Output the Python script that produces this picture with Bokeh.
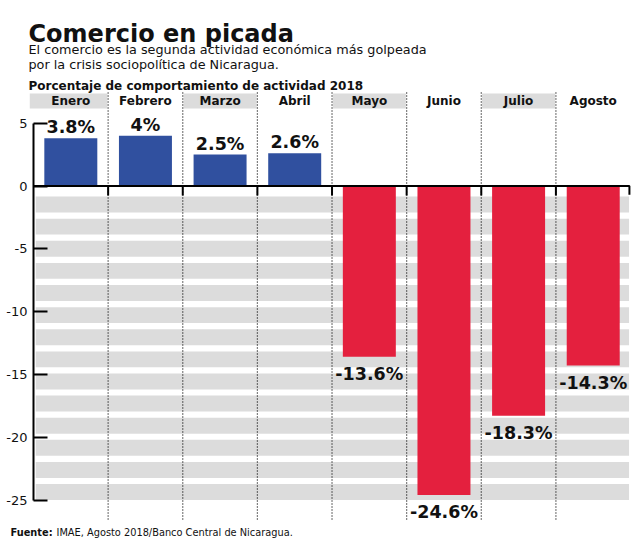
import numpy as np
from bokeh.plotting import figure
from bokeh.models import Range1d, FixedTicker, Label, ColumnDataSource
from bokeh.core.properties import value
from bokeh.embed import file_html
from bokeh.resources import INLINE

# ---------------- data ----------------
months = ["Enero", "Febrero", "Marzo", "Abril", "Mayo", "Junio", "Julio", "Agosto"]
values = [3.8, 4.0, 2.5, 2.6, -13.6, -24.6, -18.3, -14.3]
value_labels = ["3.8%", "4%", "2.5%", "2.6%", "-13.6%", "-24.6%", "-18.3%", "-14.3%"]
y_ticks = [5, 0, -5, -10, -15, -20, -25]
y_tick_labels = ["5", "0", "-5", "-10", "-15", "-20", "-25"]

title = "Comercio en picada"
subtitle_1 = "El comercio es la segunda actividad económica más golpeada"
subtitle_2 = "por la crisis sociopolítica de Nicaragua."
chart_label = "Porcentaje de comportamiento de actividad 2018"
source_bold = "Fuente:"
source_text = "IMAE, Agosto 2018/Banco Central de Nicaragua."

# ---------------- style ----------------
BLUE = "#30509f"
RED = "#e4203e"
GRAY = "#dcdcdc"
INK = "#111111"
FONT = "DejaVu Sans"

W, H = 640, 538
AXIS_PX = 33          # page x of the value axis
PX_PER_UNIT = 12.56
COL_PX = 74.63
ZERO_Y = 185.5        # page row of value 0

y_top = ZERO_Y / PX_PER_UNIT
y_bot = (ZERO_Y - H) / PX_PER_UNIT
x_lo = -AXIS_PX / COL_PX
x_hi = (W - AXIS_PX) / COL_PX
n = len(months)

p = figure(width=W, height=H,
           x_range=Range1d(x_lo, x_hi), y_range=Range1d(y_bot, y_top),
           x_axis_location=None, output_backend="svg", toolbar_location=None,
           min_border_left=0, min_border_right=0, min_border_top=0, min_border_bottom=0,
           outline_line_color=None, background_fill_color="white")
p.grid.visible = False

xc = np.arange(n) + 0.5
dividers = np.arange(1, n)

# background stripes (decoration)
n_str = 14
period = 1.761
band_h = 1.268
tops = -0.84 - period * np.arange(n_str)
p.quad(left=0.03, right=n - 0.02, top=tops, bottom=tops - band_h,
       fill_color=GRAY, line_color=None)

# header boxes on alternate columns
alt = np.arange(0, n, 2)
p.quad(left=alt - 0.06 * (alt == 0) + 0.01, right=alt + 0.99, top=7.36, bottom=6.17,
       fill_color=GRAY, line_color=None)

# dotted column dividers
p.segment(x0=dividers, y0=7.44, x1=dividers, y1=-26.63,
          line_color="black", line_width=1.2, line_dash="1 2")
# small solid ticks at zero line
p.segment(x0=dividers, y0=0, x1=dividers, y1=-0.75,
          line_color="black", line_width=2)

# bars
colors = [BLUE if v > 0 else RED for v in values]
src = ColumnDataSource(dict(x=xc, top=values, color=colors, label=value_labels,
                            ly=[v + 0.88 if v > 0 else v - 1.35 for v in values],
                            month=months))
p.vbar(x="x", top="top", bottom=0, width=0.71, fill_color="color",
       line_color=None, source=src)

# zero line with end tick
p.line(x=[0, n - 0.015, n - 0.015], y=[0, 0, -0.7], line_color="black", line_width=2)

# header labels
p.text(x="x", y=6.77, text="month", source=src, text_font=value(FONT),
       text_font_style="bold", text_font_size="12px", text_align="center",
       text_baseline="middle", text_color=INK)

# value labels
p.text(x="x", y="ly", text="label", source=src, text_font=value(FONT),
       text_font_style="bold", text_font_size="17.5px", text_align="center",
       text_baseline="middle", text_color=INK)

# y axis, pinned at x = 0 inside the frame
ax = p.yaxis[0]
ax.fixed_location = 0
ax.ticker = FixedTicker(ticks=y_ticks)
ax.major_label_overrides = {t: l for t, l in zip(y_ticks, y_tick_labels)}
ax.bounds = (-25, 5)
ax.major_tick_in = 14
ax.major_tick_out = 0
ax.minor_tick_line_color = None
ax.axis_line_width = 2
ax.major_tick_line_width = 2
ax.axis_line_color = "black"
ax.major_tick_line_color = "black"
ax.major_label_text_font = FONT
ax.major_label_text_font_size = "13px"
ax.major_label_text_color = INK
ax.major_label_standoff = 6


def add_label(text, px, py, size, bold=False):
    # px, py: page pixels (frame covers whole figure)
    p.add_layout(Label(x=px, y=H - py, x_units="screen", y_units="screen", text=text,
                       text_font=FONT, text_font_size=size,
                       text_font_style="bold" if bold else "normal",
                       text_color=INK, text_baseline="alphabetic",
                       text_align="left"))


add_label(title, 28, 33, "24px", bold=True)
add_label(subtitle_1, 28, 48.5, "12.8px")
add_label(subtitle_2, 28, 63.5, "12.8px")
add_label(chart_label, 28, 85, "12px", bold=True)
add_label(source_bold, 10, 532, "9.8px", bold=True)
add_label(source_text, 56, 532, "9.8px")

open("out.html", "w").write(file_html(p, INLINE))
